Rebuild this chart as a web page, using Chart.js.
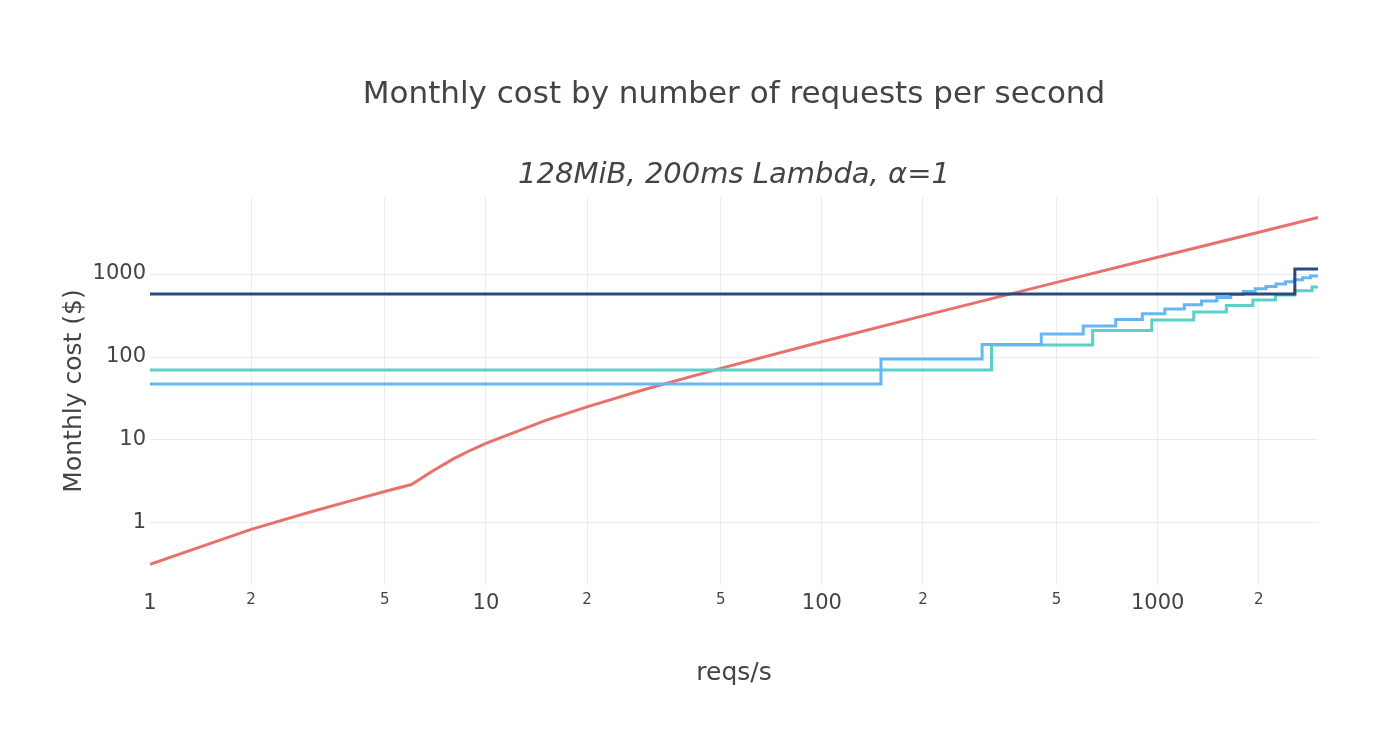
<!DOCTYPE html>
<html>
<head>
<meta charset="utf-8">
<script src="https://cdn.jsdelivr.net/npm/chart.js@4/dist/chart.umd.min.js"></script>
<style>
  html, body { margin: 0; padding: 0; background: #fff; }
  canvas { display: block; }
</style>
</head>
<body>
<canvas id="c" width="1398" height="752"></canvas>
<script>
// ---- data ----
const lambdaReqs = [1, 2, 3, 4, 5, 6, 7, 8, 9, 10, 15, 20, 30, 50, 100, 200, 500, 1000, 2000, 3000];
const lambdaCost = [0.318, 0.837, 1.355, 1.874, 2.392, 2.910, 4.322, 5.920, 7.519, 9.117, 17.11, 25.10, 41.09, 73.05, 153.0, 312.8, 792.3, 1591.5, 3189.9, 4788.3];

const blueReqs = [1, 150, 300, 450, 600, 750, 900, 1050, 1200, 1350, 1500, 1650, 1800, 1950, 2100, 2250, 2400, 2550, 2700, 2850, 3000];
const blueCost = [47.3, 94.6, 141.9, 189.2, 236.5, 283.8, 331.1, 378.4, 425.7, 473.0, 520.3, 567.6, 614.9, 662.2, 709.5, 756.8, 804.1, 851.4, 898.7, 946.0, 946.0];

const tealReqs = [1, 320, 640, 960, 1280, 1600, 1920, 2240, 2560, 2880, 3000];
const tealCost = [69.7, 139.4, 209.1, 278.8, 348.5, 418.2, 487.9, 557.6, 627.3, 697.0, 697.0];

const navyReqs = [1, 2560, 3000];
const navyCost = [574, 1148, 1148];

const xTickValues = [1, 2, 5, 10, 20, 50, 100, 200, 500, 1000, 2000];
const yTickValues = [1, 10, 100, 1000];

const titleText = 'Monthly cost by number of requests per second';
const subtitleText = '128MiB, 200ms Lambda, α=1';
const xTitle = 'reqs/s';
const yTitle = 'Monthly cost ($)';

// ---- helpers ----
const FONT = "'DejaVu Sans', Verdana, sans-serif";
const TEXT = '#444';
const GRID = '#ebebeb';
const isDecade = v => Math.abs(Math.log10(v) - Math.round(Math.log10(v))) < 1e-9;
const toXY = (xs, ys) => xs.map((x, i) => ({ x: x, y: ys[i] }));

new Chart(document.getElementById('c'), {
  type: 'line',
  data: {
    datasets: [
      { label: 'Option D', data: toXY(navyReqs, navyCost), borderColor: '#284a7e', stepped: 'before', borderWidth: 3 },
      { label: 'Option B', data: toXY(blueReqs, blueCost), borderColor: '#66b6f6', stepped: 'before', borderWidth: 3 },
      { label: 'Option C', data: toXY(tealReqs, tealCost), borderColor: '#5bcfc9', stepped: 'before', borderWidth: 3 },
      { label: 'Lambda', data: toXY(lambdaReqs, lambdaCost), borderColor: '#e8716c', borderWidth: 3 }
    ]
  },
  options: {
    responsive: false,
    animation: false,
    devicePixelRatio: 1,
    layout: { padding: { left: 0, right: 80, top: 0, bottom: 0 } },
    elements: {
      point: { radius: 0, hoverRadius: 0 },
      line: { tension: 0, fill: false }
    },
    plugins: {
      legend: { display: false },
      tooltip: { enabled: false },
      title: {
        display: true, fullSize: false, text: titleText, color: TEXT,
        font: { family: FONT, size: 31, weight: 'normal' },
        padding: { top: 76.4, bottom: 0 }
      },
      subtitle: {
        display: true, fullSize: false, text: subtitleText, color: TEXT,
        font: { family: FONT, size: 29, style: 'italic', weight: 'normal' },
        padding: { top: 44.3, bottom: 4.3 }
      }
    },
    scales: {
      x: {
        type: 'logarithmic',
        position: 'bottom',
        min: 1, max: 3000,
        bounds: 'data',
        border: { display: false },
        grid: {
          drawTicks: false,
          lineWidth: 1,
          color: ctx => (ctx.tick && ctx.tick.value === 1) ? 'rgba(0,0,0,0)' : GRID
        },
        afterBuildTicks: s => { s.ticks = xTickValues.map(v => ({ value: v })); },
        afterFit: s => { s.height = 167; },
        ticks: {
          autoSkip: false, maxRotation: 0, minRotation: 0, padding: 6, color: TEXT,
          callback: v => isDecade(v) ? String(v) : String(Math.round(v / Math.pow(10, Math.floor(Math.log10(v) + 1e-9)))),
          font: ctx => ({ family: FONT, size: (ctx.tick && isDecade(ctx.tick.value)) ? 21 : 15 })
        },
        title: {
          display: true, text: xTitle, color: TEXT,
          font: { family: FONT, size: 25 },
          padding: { top: 0, bottom: 64 }
        }
      },
      y: {
        type: 'logarithmic',
        position: 'left',
        min: 0.179, max: 8470,
        bounds: 'data',
        border: { display: false },
        grid: { drawTicks: false, lineWidth: 1, color: GRID },
        afterBuildTicks: s => { s.ticks = yTickValues.map(v => ({ value: v })); },
        afterFit: s => { s.width = 150; },
        ticks: {
          autoSkip: false, padding: 4, color: TEXT,
          callback: v => String(v),
          font: { family: FONT, size: 21 }
        },
        title: {
          display: true, text: yTitle, color: TEXT,
          font: { family: FONT, size: 25 },
          padding: { top: 59, bottom: 0 }
        }
      }
    }
  }
});
</script>
</body>
</html>
